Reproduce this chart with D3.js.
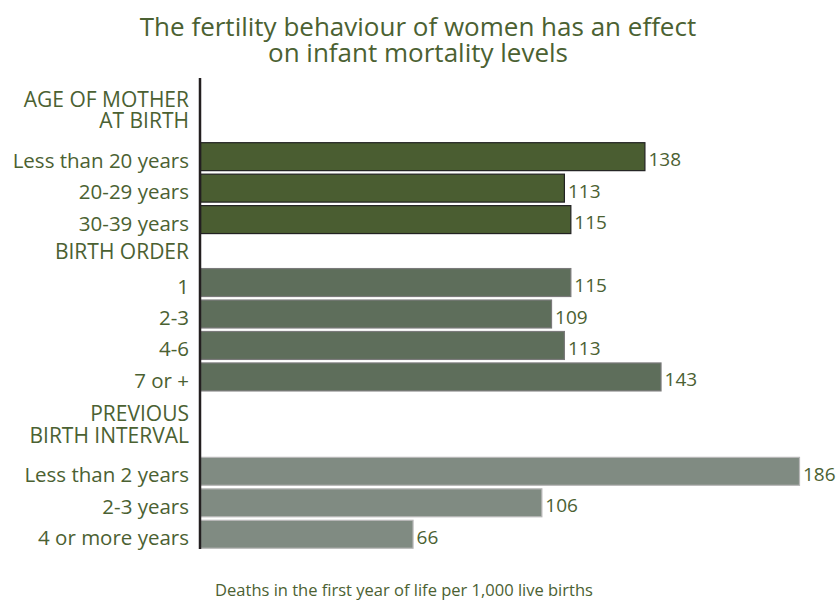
<!DOCTYPE html>
<html>
<head>
<meta charset="utf-8">
<script src="https://cdn.jsdelivr.net/npm/d3@7"></script>
<style>
  html, body { margin: 0; padding: 0; background: #fff; }
  svg { display: block; font-family: "Open Sans", "Noto Sans", sans-serif; }
</style>
</head>
<body>
<svg id="chart" width="836" height="601"></svg>
<script>
// Infant mortality (deaths in the first year per 1,000 live births)
const titleLines = ["The fertility behaviour of women has an effect", "on infant mortality levels"];
const footerText = "Deaths in the first year of life per 1,000 live births";

const groupHeaders = [
  ["AGE OF MOTHER", "AT BIRTH"],
  ["BIRTH ORDER"],
  ["PREVIOUS", "BIRTH INTERVAL"]
];
const ageCategories = ["Less than 20 years", "20-29 years", "30-39 years"];
const ageValues = [138, 113, 115];
const orderCategories = ["1", "2-3", "4-6", "7 or +"];
const orderValues = [115, 109, 113, 143];
const intervalCategories = ["Less than 2 years", "2-3 years", "4 or more years"];
const intervalValues = [186, 106, 66];

const groupFill = ["#4a5d31", "#5e6e5b", "#808b82"];
const groupStroke = ["#222222", "#7a7a7a", "#b8b8b8"];
const textColor = "#4b6132";

// Build the list of row slots: header lines each take one slot, then the bars
const groups = [
  { headers: groupHeaders[0], cats: ageCategories, vals: ageValues },
  { headers: groupHeaders[1], cats: orderCategories, vals: orderValues },
  { headers: groupHeaders[2], cats: intervalCategories, vals: intervalValues }
];
const slots = [];
const bars = [];
const headerBlocks = [];
groups.forEach((g, gi) => {
  const keys = g.headers.map((h, hi) => `h${gi}-${hi}`);
  keys.forEach(k => slots.push(k));
  headerBlocks.push({ gi, keys, lines: g.headers });
  g.cats.forEach((c, ci) => {
    const key = `b${gi}-${ci}`;
    slots.push(key);
    bars.push({ key, gi, label: c, value: g.vals[ci] });
  });
});

const svg = d3.select("#chart");

const y = d3.scaleBand()
  .domain(slots)
  .range([78, 550])
  .paddingInner(0.08)
  .paddingOuter(0.04);

const x = d3.scaleLinear()
  .domain([0, 186])
  .range([200, 799]);

// Multi-line text block: one <text>, one <tspan> per line
function multiline(sel, lines, xPos, firstBaseline, lineHeight) {
  sel.selectAll("tspan")
    .data(lines)
    .join("tspan")
    .attr("x", xPos)
    .attr("y", (d, i) => firstBaseline + i * lineHeight)
    .text(d => d);
}

// Title
svg.append("text")
  .attr("text-anchor", "middle")
  .attr("fill", textColor)
  .style("font-size", "26px")
  .call(multiline, titleLines, 418, 36, 26);

// Bars
svg.append("g")
  .selectAll("rect")
  .data(bars)
  .join("rect")
  .attr("x", x(0) + 0.5)
  .attr("y", d => y(d.key) + 0.5)
  .attr("width", d => x(d.value) - x(0))
  .attr("height", y.bandwidth() - 1)
  .attr("fill", d => groupFill[d.gi])
  .attr("stroke", d => groupStroke[d.gi])
  .attr("stroke-width", 1.2);

// Category labels
svg.append("g")
  .selectAll("text")
  .data(bars)
  .join("text")
  .attr("x", 189)
  .attr("y", d => y(d.key) + y.bandwidth() / 2 + 11)
  .attr("text-anchor", "end")
  .attr("fill", textColor)
  .style("font-size", "20.5px")
  .text(d => d.label);

// Value labels
svg.append("g")
  .selectAll("text")
  .data(bars)
  .join("text")
  .attr("x", d => x(d.value) + 4)
  .attr("y", d => y(d.key) + y.bandwidth() / 2 + 9.5)
  .attr("fill", textColor)
  .style("font-size", "19px")
  .text(d => d.value);

// Group headers, centred over the slots they occupy
headerBlocks.forEach(b => {
  const top = y(b.keys[0]);
  const bottom = y(b.keys[b.keys.length - 1]) + y.bandwidth();
  const mid = (top + bottom) / 2;
  const lh = 21.5;
  const n = b.lines.length;
  svg.append("text")
    .attr("text-anchor", "end")
    .attr("fill", textColor)
    .style("font-size", "21px")
    .call(multiline, b.lines, 189, mid + 8 - (n - 1) / 2 * lh, lh);
});

// Vertical axis line
svg.append("line")
  .attr("x1", x(0)).attr("x2", x(0))
  .attr("y1", y.range()[0]).attr("y2", y.range()[1] - 1)
  .attr("stroke", "#231f20")
  .attr("stroke-width", 2.5);

// Footer note
svg.append("text")
  .attr("x", 404)
  .attr("y", 596)
  .attr("text-anchor", "middle")
  .attr("fill", textColor)
  .style("font-size", "16.5px")
  .text(footerText);
</script>
</body>
</html>
